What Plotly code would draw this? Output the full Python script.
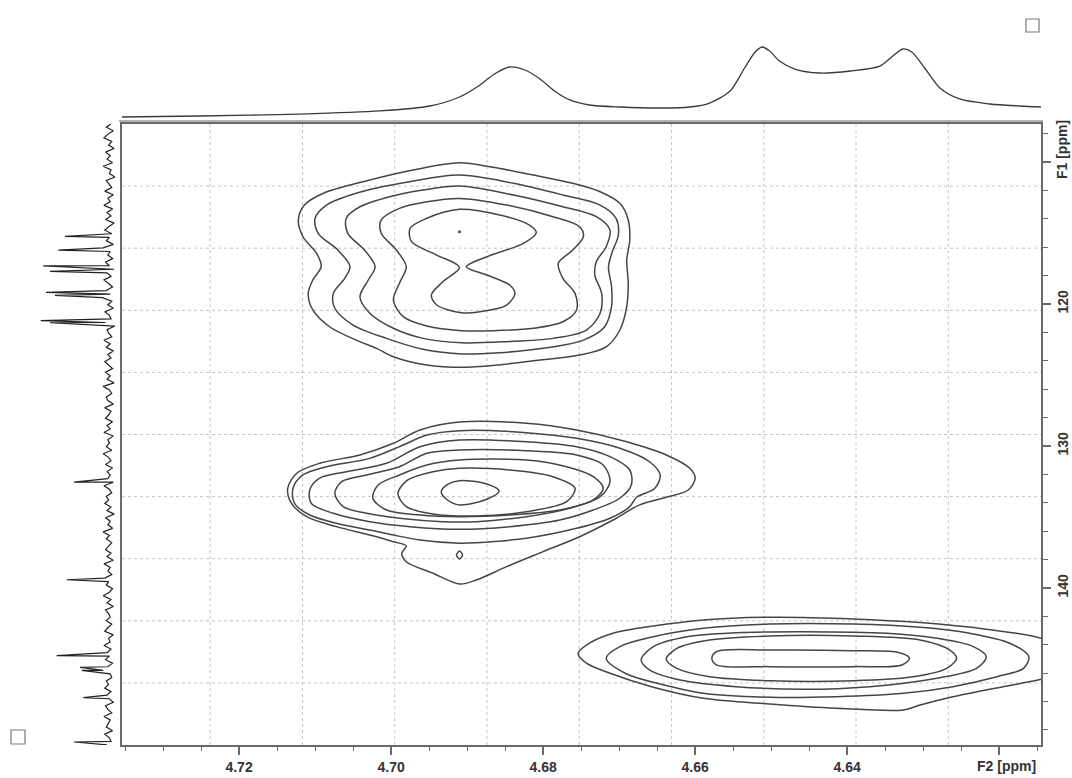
import numpy as np
import plotly.graph_objects as go

# ---------------- F2 (1H) projection shown above the 2D map ----------------
proj_f2_ppm = [4.7354, 4.7252, 4.7120, 4.7015, 4.6949, 4.6910, 4.6883, 4.6864, 4.6844, 4.6824,
               4.6804, 4.6785, 4.6765, 4.6739, 4.6699, 4.6646, 4.6607, 4.6581, 4.6554, 4.6535,
               4.6521, 4.6512, 4.6502, 4.6489, 4.6469, 4.6436, 4.6396, 4.6357, 4.6340, 4.6327,
               4.6315, 4.6298, 4.6278, 4.6252, 4.6212, 4.6173, 4.6145]
proj_f2_int = [1.4, 2.8, 5.6, 9.9, 16.9, 29.6, 46.5, 62.0, 71.8, 67.6,
               54.9, 38.0, 25.4, 18.3, 15.5, 14.1, 15.5, 21.1, 38.0, 70.4,
               93.0, 100.0, 94.4, 80.3, 69.0, 63.4, 66.2, 73.2, 87.3, 97.2,
               93.0, 70.4, 42.3, 26.8, 19.7, 16.9, 15.5]

# ---------------- F1 (15N) projection shown left of the 2D map ----------------
f1_noise_start = 107.3
f1_noise_step = 0.25
f1_noise = [9, 15, 6, 13, 18, 8, 12, 5, 16, 10, 14, 7, 19, 9, 11, 4, 15, 12, 8, 17,
            6, 13, 10, 18, 7, 14, 9, 16, 5, 12, 17, 8, 11, 15, 6, 19, 10, 13, 7, 16,
            11, 5, 14, 9, 18, 12, 7, 15, 10, 20, 8, 13, 6, 17, 11, 9, 16, 4, 14, 12,
            8, 18, 10, 15, 6, 13, 9, 17, 12, 7, 16, 10, 14, 5, 19, 11, 8, 15, 13, 6,
            17, 9, 12, 16, 7, 14, 10, 18, 6, 13, 11, 15, 8, 19, 12, 9, 16, 7, 14, 10,
            13, 6, 18, 11, 8, 15, 12, 17, 9, 14, 5, 16, 10, 13, 7, 19, 11, 15, 8, 12,
            16, 9, 14, 6, 18, 10, 13, 8, 17, 12, 15, 7, 11, 19, 9, 14, 6, 16, 12, 10,
            15, 8, 13, 17, 6, 12, 10, 18, 9, 14, 11, 16, 7, 13, 19, 10, 8, 15, 12, 17,
            9, 14, 11, 6, 16, 13, 8, 18, 10, 12, 15, 7, 17, 11, 9, 14]
f1_peak_ppm = [115.23, 116.21, 117.31, 117.70, 119.18, 119.39, 121.17, 121.32,
               132.54, 139.42, 144.76, 145.59, 145.80, 147.73, 150.85]
f1_peak_int = [67.9, 76.5, 95.8, 87.2, 92.3, 80.8, 99.1, 87.2,
               56.4, 65.8, 78.6, 48.7, 46.5, 44.5, 56.4]

# ---------------- 2D contour lines (F2 ppm, F1 ppm), outer to inner ----------------
# cross peak 1 (~4.691 / 114.9 and 119.0 ppm)
p1_l1_f2 = [4.6910, 4.6866, 4.6813, 4.6761, 4.6725, 4.6699, 4.6688, 4.6686, 4.6690, 4.6688, 4.6690,
            4.6699, 4.6717, 4.6752, 4.6804, 4.6861, 4.6907, 4.6953, 4.6997, 4.7019, 4.7046, 4.7081,
            4.7103, 4.7109, 4.7103, 4.7092, 4.7098, 4.7116, 4.7122, 4.7114, 4.7089, 4.7037, 4.6971]
p1_l1_f1 = [110.05, 110.37, 110.92, 111.50, 112.09, 112.91, 114.08, 115.49, 116.90, 118.54, 120.19,
            121.83, 123.01, 123.59, 123.94, 124.30, 124.46, 124.30, 123.71, 123.12, 122.54, 121.60,
            120.42, 119.25, 118.31, 117.37, 116.43, 115.26, 114.08, 113.03, 112.20, 111.39, 110.56]
p1_l2_f2 = [4.6910, 4.6839, 4.6774, 4.6725, 4.6704, 4.6701, 4.6709, 4.6714, 4.6710, 4.6710, 4.6719,
            4.6747, 4.6800, 4.6857, 4.6907, 4.6958, 4.7006, 4.7050, 4.7074, 4.7076, 4.7061, 4.7054,
            4.7070, 4.7096, 4.7100, 4.7085, 4.7046, 4.6980]
p1_l2_f1 = [110.92, 111.50, 112.32, 113.03, 113.96, 115.14, 116.32, 117.37, 118.78, 120.19, 121.60,
            122.54, 123.12, 123.43, 123.52, 123.19, 122.42, 121.48, 120.30, 119.25, 118.19, 117.37,
            116.20, 115.02, 113.96, 113.03, 112.20, 111.43]
p1_l3_f2 = [4.6910, 4.6839, 4.6774, 4.6730, 4.6712, 4.6717, 4.6730, 4.6732, 4.6723, 4.6725, 4.6743,
            4.6787, 4.6848, 4.6907, 4.6958, 4.6997, 4.7028, 4.7041, 4.7030, 4.7021, 4.7035, 4.7057,
            4.7059, 4.7041, 4.7002, 4.6958]
p1_l3_f1 = [111.69, 112.32, 113.15, 113.85, 114.79, 115.96, 117.02, 117.96, 119.25, 120.65, 121.83,
            122.42, 122.65, 122.73, 122.42, 121.71, 120.65, 119.49, 118.31, 117.37, 116.20, 115.02,
            113.96, 113.15, 112.44, 111.97]
p1_l4_f2 = [4.6910, 4.6848, 4.6787, 4.6752, 4.6747, 4.6761, 4.6780, 4.6774, 4.6758, 4.6756, 4.6774,
            4.6813, 4.6866, 4.6907, 4.6953, 4.6984, 4.6997, 4.6989, 4.6980, 4.6993, 4.7013, 4.7013,
            4.6989, 4.6953]
p1_l4_f1 = [112.56, 113.03, 113.85, 114.56, 115.26, 116.20, 117.13, 118.19, 119.25, 120.42, 121.25,
            121.71, 121.88, 121.88, 121.55, 120.89, 119.72, 118.54, 117.37, 116.20, 115.02, 114.08,
            113.26, 112.80]
p1_l5_f2 = [4.6910, 4.6857, 4.6818, 4.6809, 4.6826, 4.6874, 4.6901, 4.6874, 4.6844, 4.6837, 4.6848,
            4.6883, 4.6907, 4.6940, 4.6947, 4.6932, 4.6910, 4.6940, 4.6973, 4.6975, 4.6953]
p1_l5_f1 = [113.33, 113.73, 114.44, 114.98, 115.73, 116.67, 117.37, 117.96, 118.66, 119.25, 120.07,
            120.54, 120.61, 120.07, 119.37, 118.43, 117.42, 116.55, 115.61, 114.67, 113.96]

# cross peak 2 (~4.690 / 133.0 ppm)
p2_l1_f2 = [4.6910, 4.6822, 4.6756, 4.6690, 4.6638, 4.6607, 4.6600, 4.6609, 4.6638, 4.6673, 4.6708,
            4.6752, 4.6800, 4.6848, 4.6888, 4.6910, 4.6945, 4.6980, 4.6986, 4.6980, 4.6997, 4.7028,
            4.7072, 4.7111, 4.7131, 4.7136, 4.7124, 4.7094, 4.7041, 4.6997, 4.6962]
p2_l1_f1 = [128.31, 128.40, 128.87, 129.70, 130.63, 131.57, 132.27, 133.10, 133.61, 134.15, 135.21,
            136.39, 137.44, 138.50, 139.44, 139.72, 138.96, 138.15, 137.56, 137.04, 136.74, 136.27,
            135.68, 134.98, 134.04, 132.98, 131.92, 131.22, 130.63, 129.81, 128.87]
p2_l2_f2 = [4.6910, 4.6822, 4.6756, 4.6699, 4.6660, 4.6646, 4.6653, 4.6677, 4.6686, 4.6712, 4.6756,
            4.6822, 4.6888, 4.6910, 4.6962, 4.6997, 4.7028, 4.7072, 4.7107, 4.7127, 4.7129, 4.7116,
            4.7085, 4.7028, 4.6984, 4.6953]
p2_l2_f1 = [128.92, 129.06, 129.46, 130.16, 131.11, 132.04, 132.98, 133.61, 134.27, 135.09, 135.80,
            136.50, 136.81, 136.85, 136.62, 136.27, 135.92, 135.44, 134.86, 134.04, 132.98, 132.04,
            131.46, 130.87, 129.93, 129.23]
p2_l3_f2 = [4.6910, 4.6822, 4.6756, 4.6712, 4.6686, 4.6684, 4.6699, 4.6734, 4.6778, 4.6844, 4.6910,
            4.6975, 4.7028, 4.7076, 4.7105, 4.7107, 4.7094, 4.7059, 4.7006, 4.6962]
p2_l3_f1 = [129.58, 129.70, 130.05, 130.75, 131.69, 132.75, 133.68, 134.51, 135.21, 135.68, 135.87,
            135.68, 135.33, 134.74, 134.04, 133.10, 132.27, 131.81, 131.22, 130.05]
p2_l4_f2 = [4.6910, 4.6822, 4.6756, 4.6721, 4.6712, 4.6725, 4.6765, 4.6822, 4.6888, 4.6932, 4.6989,
            4.7032, 4.7063, 4.7074, 4.7065, 4.7032, 4.6989, 4.6953]
p2_l4_f1 = [130.28, 130.33, 130.63, 131.34, 132.51, 133.57, 134.39, 134.98, 135.33, 135.33, 135.09,
            134.74, 134.27, 133.33, 132.51, 132.04, 131.46, 130.51]
p2_l5_f2 = [4.6910, 4.6822, 4.6769, 4.6734, 4.6721, 4.6734, 4.6778, 4.6844, 4.6910, 4.6962, 4.7006,
            4.7024, 4.7017, 4.6989, 4.6953]
p2_l5_f1 = [130.99, 130.99, 131.46, 132.16, 132.98, 133.80, 134.51, 134.86, 134.98, 134.86, 134.51,
            133.68, 132.75, 132.04, 131.34]
p2_l6_f2 = [4.6910, 4.6844, 4.6787, 4.6758, 4.6769, 4.6822, 4.6888, 4.6945, 4.6980, 4.6991, 4.6978,
            4.6945]
p2_l6_f1 = [131.57, 131.69, 132.16, 132.98, 133.92, 134.63, 134.93, 134.79, 134.27, 133.33, 132.39,
            131.81]
p2_l7_f2 = [4.6910, 4.6874, 4.6858, 4.6874, 4.6910, 4.6927, 4.6934, 4.6925]
p2_l7_f1 = [132.44, 132.68, 133.17, 133.75, 134.15, 133.75, 133.22, 132.68]
p2_spot_f2 = [4.6906, 4.6910, 4.6914, 4.6910]
p2_spot_f1 = [137.68, 137.40, 137.68, 137.96]

# cross peak 3 (~4.645 / 145.0 ppm)
p3_l1_f2 = [4.6754, 4.6739, 4.6708, 4.6655, 4.6589, 4.6502, 4.6392, 4.6304, 4.6217, 4.6145, 4.6107,
            4.6116, 4.6145, 4.6195, 4.6261, 4.6304, 4.6326, 4.6414, 4.6502, 4.6589, 4.6655, 4.6712,
            4.6743]
p3_l1_f1 = [144.60, 143.89, 143.19, 142.68, 142.25, 142.06, 142.18, 142.44, 142.91, 143.54, 144.60,
            145.89, 146.43, 146.95, 147.66, 148.24, 148.59, 148.47, 148.17, 147.77, 146.99, 146.01,
            145.30]
p3_l2_f2 = [4.6717, 4.6699, 4.6655, 4.6589, 4.6502, 4.6392, 4.6304, 4.6239, 4.6186, 4.6161, 4.6168,
            4.6203, 4.6261, 4.6326, 4.6414, 4.6502, 4.6589, 4.6646, 4.6690]
p3_l2_f1 = [144.95, 144.13, 143.43, 142.84, 142.54, 142.54, 142.77, 143.19, 143.89, 144.84, 145.66,
            146.25, 146.95, 147.42, 147.66, 147.70, 147.42, 146.76, 146.06]
p3_l3_f2 = [4.6671, 4.6655, 4.6611, 4.6546, 4.6458, 4.6348, 4.6282, 4.6234, 4.6217, 4.6230, 4.6282,
            4.6370, 4.6458, 4.6546, 4.6620, 4.6660]
p3_l3_f1 = [145.07, 144.13, 143.43, 143.15, 143.08, 143.19, 143.54, 144.13, 144.84, 145.66, 146.36,
            146.95, 147.13, 146.95, 146.48, 145.77]
p3_l4_f2 = [4.6638, 4.6624, 4.6581, 4.6502, 4.6392, 4.6304, 4.6265, 4.6256, 4.6269, 4.6313, 4.6392,
            4.6502, 4.6581, 4.6624]
p3_l4_f1 = [145.02, 144.25, 143.66, 143.38, 143.38, 143.66, 144.37, 144.95, 145.66, 146.25, 146.53,
            146.53, 146.25, 145.66]
p3_l5_f2 = [4.6578, 4.6572, 4.6502, 4.6392, 4.6331, 4.6318, 4.6328, 4.6392, 4.6502, 4.6572]
p3_l5_f1 = [144.95, 144.49, 144.37, 144.42, 144.56, 144.95, 145.42, 145.54, 145.54, 145.42]

# local maximum marker inside peak 1
p1_max_f2 = [4.6910]
p1_max_f1 = [114.91]

# axis ticks
f2_major = [4.72, 4.70, 4.68, 4.66, 4.64, 4.62]
f2_labels = ["4.72", "4.70", "4.68", "4.66", "4.64", ""]
f1_major = [110, 120, 130, 140]
f1_labels = ["", "120", "130", "140"]

contours = [
    (p1_l1_f2, p1_l1_f1), (p1_l2_f2, p1_l2_f1), (p1_l3_f2, p1_l3_f1), (p1_l4_f2, p1_l4_f1),
    (p1_l5_f2, p1_l5_f1),
    (p2_l1_f2, p2_l1_f1), (p2_l2_f2, p2_l2_f1), (p2_l3_f2, p2_l3_f1), (p2_l4_f2, p2_l4_f1),
    (p2_l5_f2, p2_l5_f1), (p2_l6_f2, p2_l6_f1), (p2_l7_f2, p2_l7_f1), (p2_spot_f2, p2_spot_f1),
    (p3_l1_f2, p3_l1_f1), (p3_l2_f2, p3_l2_f1), (p3_l3_f2, p3_l3_f1), (p3_l4_f2, p3_l4_f1),
    (p3_l5_f2, p3_l5_f1),
]

# ---------------- page geometry (pixels of a 1072 x 778 page) ----------------
W, H = 1072, 778
PX_L, PX_R, PX_T, PX_B = 122, 1041, 124, 745
x_dom = [PX_L / W, PX_R / W]
y_dom = [(H - PX_B) / H, (H - PX_T) / H]

LINE = "#454545"
AXIS = "#6a6a6a"
TXT = "#333333"
FONT = "Liberation Sans, Arial, sans-serif"

fig = go.Figure()

# contour lines
for cx, cy in contours:
    fig.add_trace(go.Scatter(
        x=list(cx) + [cx[0]], y=list(cy) + [cy[0]], mode="lines",
        line=dict(color=LINE, width=1.5, shape="spline", smoothing=0.9),
        xaxis="x", yaxis="y", hoverinfo="skip", showlegend=False))
fig.add_trace(go.Scatter(x=p1_max_f2, y=p1_max_f1, mode="markers",
                         marker=dict(color=LINE, size=3), xaxis="x", yaxis="y",
                         hoverinfo="skip", showlegend=False))

# F2 projection (top)
fig.add_trace(go.Scatter(x=proj_f2_ppm, y=proj_f2_int, mode="lines",
                         line=dict(color="#3a3a3a", width=1.3, shape="spline", smoothing=0.8),
                         xaxis="x2", yaxis="y2", hoverinfo="skip", showlegend=False))

# F1 projection (left): noise floor sampled on a regular grid plus sharp peaks
noise_ppm = np.round(f1_noise_start + f1_noise_step * np.arange(len(f1_noise)), 3).tolist()
f1_pts = sorted(zip(noise_ppm + f1_peak_ppm, f1_noise + f1_peak_int))
fig.add_trace(go.Scatter(x=[p[1] for p in f1_pts], y=[p[0] for p in f1_pts], mode="lines",
                         line=dict(color="#222222", width=1.2),
                         xaxis="x3", yaxis="y3", hoverinfo="skip", showlegend=False))

# grid lines (dotted, independent of the tick positions)
shapes = []
grid_x = [0.0958, 0.1964, 0.2968, 0.3972, 0.4976, 0.5979, 0.6984, 0.7987, 0.8991]
for gx in grid_x:
    shapes.append(dict(type="line", xref="x domain", yref="y domain", x0=gx, x1=gx, y0=0, y1=1,
                       line=dict(color="#c4c4c4", width=1, dash="dot"), layer="below"))
for k in range(1, 10):
    gy = k / 10
    shapes.append(dict(type="line", xref="x domain", yref="y domain", x0=0, x1=1, y0=gy, y1=gy,
                       line=dict(color="#c4c4c4", width=1, dash="dot"), layer="below"))
# thin line just above the frame top (projection baseline border)
shapes.append(dict(type="line", xref="paper", yref="paper", x0=(PX_L - 3) / W, x1=(PX_R + 2) / W,
                   y0=(H - 121) / H, y1=(H - 121) / H, line=dict(color=AXIS, width=1.2)))
# small window-control squares
for (cx0, cy0, s) in [(1026, 19, 13), (11, 730, 14)]:
    shapes.append(dict(type="rect", xref="paper", yref="paper",
                       x0=cx0 / W, x1=(cx0 + s) / W, y0=(H - cy0 - s) / H, y1=(H - cy0) / H,
                       line=dict(color="#7a7a7a", width=1.2), fillcolor="white"))

f2_minor = [v for v in np.round(np.arange(4.615, 4.7351, 0.005), 3).tolist()
            if min(abs(v - m) for m in f2_major) > 1e-6]
f1_minor = [v for v in range(108, 152, 2) if v not in f1_major]

tickfont = dict(family=FONT, size=14, color=TXT, weight="bold")

fig.update_layout(
    width=W, height=H, margin=dict(l=0, r=0, t=0, b=0),
    paper_bgcolor="white", plot_bgcolor="white",
    showlegend=False, shapes=shapes,
    xaxis=dict(domain=x_dom, range=[4.7354, 4.6145], anchor="y",
               showline=True, mirror=True, linecolor=AXIS, linewidth=2,
               ticks="outside", ticklen=8, tickwidth=1.5, tickcolor=AXIS,
               tickmode="array", tickvals=f2_major, ticktext=f2_labels, tickfont=tickfont,
               minor=dict(ticks="outside", ticklen=4, tickwidth=1.2, tickcolor=AXIS,
                          tickmode="array", tickvals=f2_minor, showgrid=False),
               showgrid=False, zeroline=False),
    yaxis=dict(domain=y_dom, range=[151.06, 107.32], anchor="x", side="right",
               showline=True, mirror=True, linecolor=AXIS, linewidth=2,
               ticks="outside", ticklen=8, tickwidth=1.5, tickcolor=AXIS,
               tickmode="array", tickvals=f1_major, ticktext=f1_labels, tickfont=tickfont,
               tickangle=-90,
               minor=dict(ticks="outside", ticklen=5, tickwidth=1.2, tickcolor=AXIS,
                          tickmode="array", tickvals=f1_minor, showgrid=False),
               showgrid=False, zeroline=False),
    xaxis2=dict(domain=x_dom, anchor="y2", matches="x", visible=False),
    yaxis2=dict(domain=[(H - 122) / H, (H - 40) / H], anchor="x2",
                range=[-5.63, 109.86], visible=False),
    xaxis3=dict(domain=[0, 118 / W], anchor="y3", range=[151.3, 0], visible=False),
    yaxis3=dict(domain=y_dom, anchor="x3", matches="y", visible=False),
    annotations=[
        dict(text="F2 [ppm]", xref="x", yref="paper", x=4.62, y=(H - 766) / H,
             xshift=7, showarrow=False, font=tickfont, xanchor="center", yanchor="middle"),
        dict(text="F1 [ppm]", xref="paper", yref="y", x=1062 / W, y=110, yshift=12,
             textangle=-90, showarrow=False, font=tickfont, xanchor="center", yanchor="middle"),
    ],
)

fig.write_html("out.html")
